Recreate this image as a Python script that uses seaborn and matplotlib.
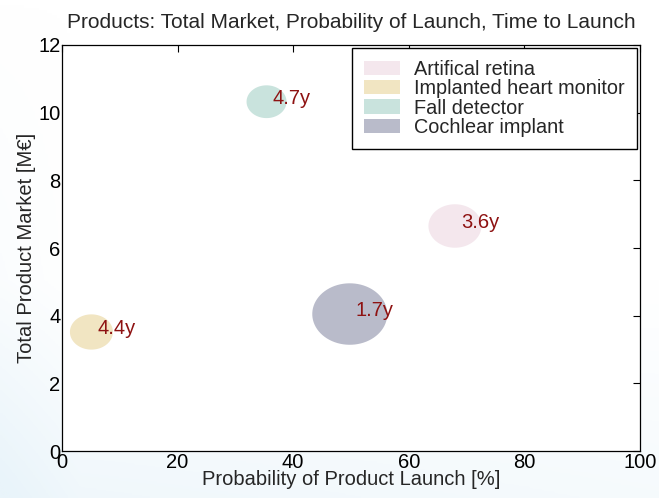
import numpy as np
import pandas as pd
import matplotlib
matplotlib.use("Agg")
import matplotlib.pyplot as plt
from matplotlib.path import Path
from matplotlib.patches import Patch
from matplotlib.colors import LinearSegmentedColormap
import seaborn as sns

products = ["Artifical retina", "Implanted heart monitor", "Fall detector", "Cochlear implant"]
launch_prob = [68.0, 5.1, 35.4, 49.8]
total_market = [6.65, 3.52, 10.32, 4.05]
time_to_launch = [3.6, 4.4, 4.7, 1.7]
bubble_value = [1.46, 0.96, 0.83, 2.92]
colors = ["#F4E7ED", "#F1E5C2", "#C9E3DD", "#B9BBCA"]

df = pd.DataFrame({"product": products, "prob": launch_prob,
                   "market": total_market, "size": bubble_value})

sns.set_style("white")
plt.rcParams["font.family"] = ["Liberation Sans", "DejaVu Sans"]

fig = plt.figure(figsize=(6.59, 4.98), dpi=100)

# faint bluish backdrop
bg = fig.add_axes([0, 0, 1, 1], zorder=-10)
yy, xx = np.mgrid[0:1:200j, 0:1:260j]
field = np.clip(1.6 * yy - 0.9, 0, 1) * (0.6 + 0.4 * (1 - xx)) + np.clip(0.12 - xx, 0, 1) * 3 * yy
cmap = LinearSegmentedColormap.from_list("bgc", ["#FFFFFF", "#E9F4FA"])
bg.imshow(np.clip(field, 0, 1), cmap=cmap, aspect="auto", extent=[0, 1, 1, 0], vmin=0, vmax=1)
bg.axis("off")

ax = fig.add_axes([0.094, 0.094, 0.877, 0.816])
ax.set_facecolor("white")

# ellipse marker (slightly wider than tall)
t = np.linspace(0, 2 * np.pi, 80)
ell = Path(np.column_stack([1.22 * np.cos(t), np.sin(t)]), closed=True)

sns.scatterplot(data=df, x="prob", y="market", hue="product",
                palette=dict(zip(products, colors)), size="size",
                sizes=(829, 2916), size_norm=(min(bubble_value), max(bubble_value)),
                marker=ell, linewidth=0, alpha=1, legend=False, ax=ax, zorder=2)

for x, y, tl in zip(launch_prob, total_market, time_to_launch):
    ax.text(x + 1.0, y + 0.1, f"{tl}y", color="#8E1212", fontsize=14.5,
            ha="left", va="center", zorder=3)

ax.set_xlim(0, 100)
ax.set_ylim(0, 12)
ax.set_xticks(np.arange(0, 101, 20))
ax.set_yticks(np.arange(0, 13, 2))
ax.tick_params(direction="in", length=5, width=0.8, top=True, right=True,
               labelsize=14.5, colors="black", pad=1)
for s in ax.spines.values():
    s.set_color("black")
    s.set_linewidth(0.9)
ax.set_xlabel("Probability of Product Launch [%]", fontsize=14.5, labelpad=-1)
ax.set_ylabel("Total Product Market [M€]", fontsize=14.5, labelpad=2)
ax.set_title("Products: Total Market, Probability of Launch, Time to Launch",
             fontsize=15, pad=12)

handles = [Patch(facecolor=c, edgecolor="none", label=p) for p, c in zip(products, colors)]
leg = ax.legend(handles=handles, loc="upper right", fontsize=14.3, frameon=True,
                fancybox=False, edgecolor="black", handlelength=1.85, handleheight=0.75,
                borderpad=0.6, labelspacing=0.02, handletextpad=0.7,
                borderaxespad=0.15, framealpha=1)
leg.get_frame().set_linewidth(1.0)

fig.savefig("out.png", dpi=100, facecolor="white")
